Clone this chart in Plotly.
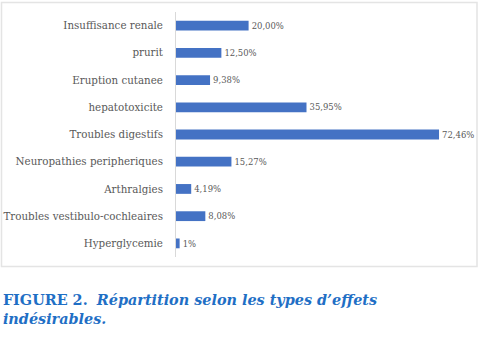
import plotly.graph_objects as go

# Adverse effect categories (top to bottom as displayed) and their percentages
categories = [
    "Insuffisance renale",
    "prurit",
    "Eruption cutanee",
    "hepatotoxicite",
    "Troubles digestifs",
    "Neuropathies peripheriques",
    "Arthralgies",
    "Troubles vestibulo-cochleaires",
    "Hyperglycemie",
]
values = [20.00, 12.50, 9.38, 35.95, 72.46, 15.27, 4.19, 8.08, 1.0]
decimals = [2, 2, 2, 2, 2, 2, 2, 2, 0]

labels = [f"{v:.{d}f}".replace(".", ",") + "%" for v, d in zip(values, decimals)]

SERIF = "DejaVu Serif"

W, H = 483, 342
L, R, T, B = 176, 17, 12, 85
pw, ph = W - L - R, H - T - B

fig = go.Figure(
    go.Bar(
        x=values,
        y=categories,
        orientation="h",
        marker=dict(color="#4472C4", line=dict(width=0)),
        width=0.36,
        text=labels,
        textposition="outside",
        cliponaxis=False,
        textfont=dict(family=SERIF, size=9.5, color="#595959"),
    )
)

# light frame around the chart block
def px_x(p):
    return (p - L) / pw


def px_y(p):
    return (T + ph - p) / ph


fig.add_shape(
    type="rect", xref="paper", yref="paper",
    x0=px_x(1.5), x1=px_x(477), y0=px_y(266.5), y1=px_y(2.5),
    line=dict(color="#e4e4e4", width=1.5), fillcolor="rgba(0,0,0,0)", layer="below",
)

fig.update_layout(
    width=W, height=H,
    margin=dict(l=L, r=R, t=T, b=B, autoexpand=False),
    paper_bgcolor="white", plot_bgcolor="white",
    showlegend=False,
    bargap=0.64,
    xaxis=dict(range=[0, pw / 3.63], visible=False, fixedrange=True, automargin=False),
    yaxis=dict(
        autorange="reversed", automargin=False,
        showline=True, linecolor="#d9d9d9", linewidth=1,
        ticks="", ticklabelstandoff=10,
        tickfont=dict(family=SERIF, size=10.3, color="#595959"),
        showgrid=False, fixedrange=True,
    ),
    title=dict(
        text="<b>FIGURE 2.</b>  <b><i>Répartition selon les types d’effets</i></b><br><b><i>indésirables.</i></b>",
        xref="container", yref="container",
        x=0.006, xanchor="left", y=0.108, yanchor="top",
        font=dict(family=SERIF, size=14.4, color="#1f6fc5"),
    ),
)

fig.write_html("out.html")
